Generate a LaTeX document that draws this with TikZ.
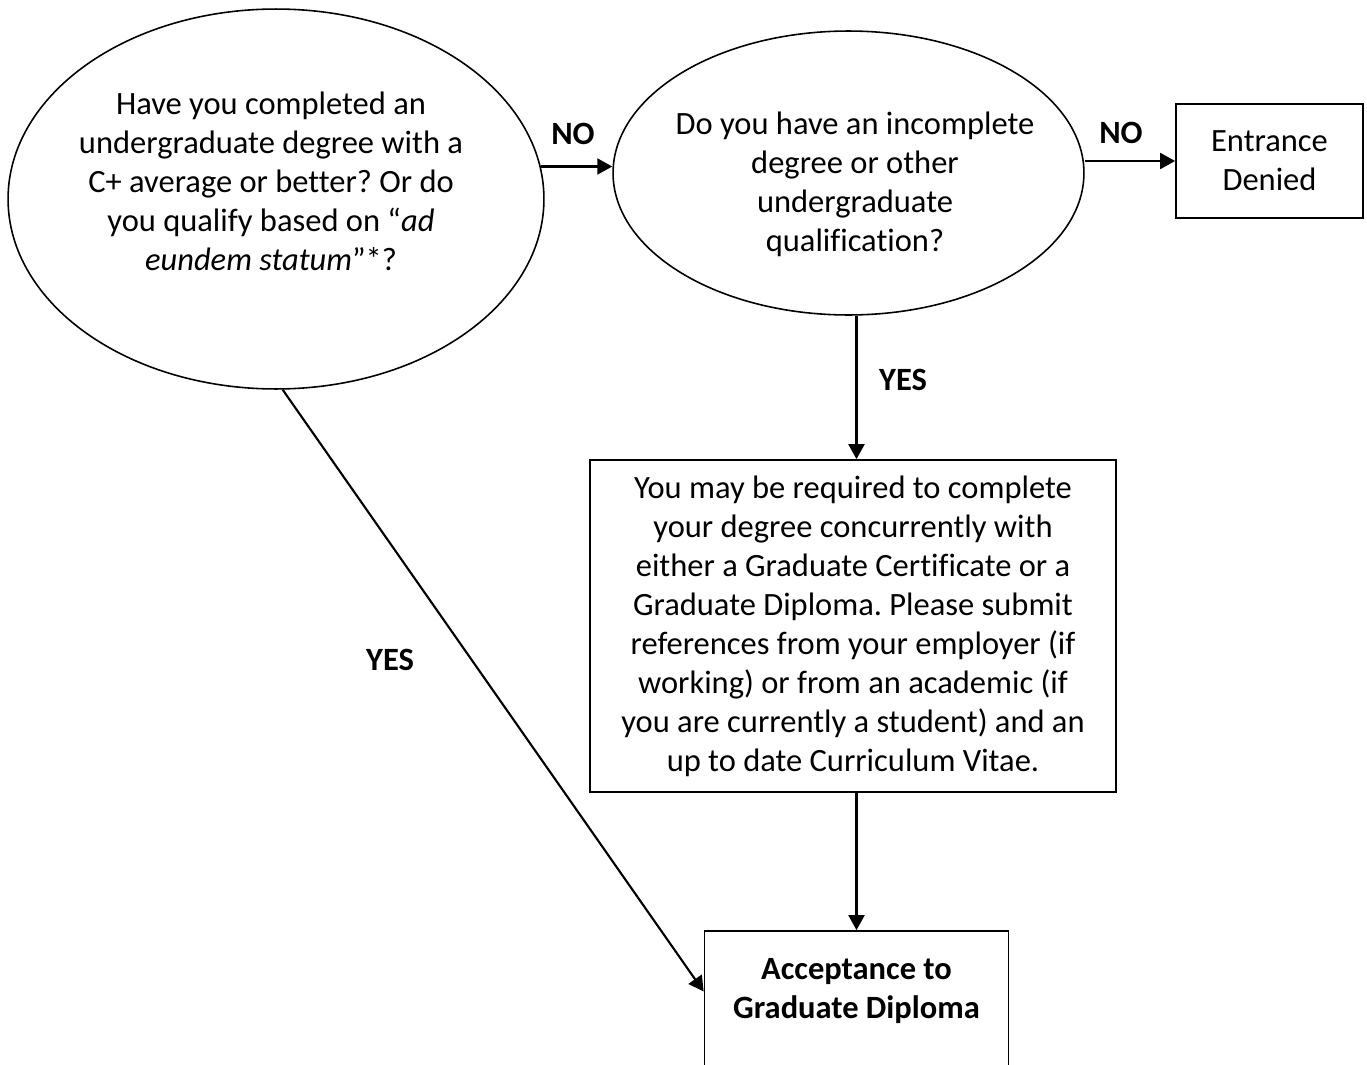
\documentclass[tikz,border=0pt]{standalone}
\usepackage{fontspec}
\setmainfont{Carlito}[RawFeature={-liga;-clig;-calt;-dlig}]
\usetikzlibrary{shapes.geometric,arrows.meta,calc}

\tikzset{
    txt/.style={font=\fontsize{18.5}{22.2}\selectfont, align=center, inner sep=0pt},
    oval/.style={draw, ellipse, line width=0.9pt, inner sep=0pt},
    box/.style={draw, rectangle, line width=1pt, inner sep=0pt, txt},
    lbl/.style={font=\fontsize{18.5}{22.2}\selectfont\bfseries, inner sep=0pt},
    flow/.style={line width=1.2pt, -{Triangle[length=0.3cm, width=0.32cm]}}
}

\begin{document}
\frenchspacing
\begin{tikzpicture}[x=0.02cm, y=-0.02cm]
%\draw [help lines] (0,0) grid (1367,1065);
    \clip (0,0) rectangle (1367,1065);
    \node [oval, minimum width=10.72cm, minimum height=7.6cm] (q1) at (276,199) {};
    \node [txt] (q1txt) at (271,181) {Have you completed an\\undergraduate degree with a\\C+ average or better? Or do\\you qualify based on “\textit{ad}\\\textit{eundem statum}”*?};
    \node [oval, minimum width=9.42cm, minimum height=5.68cm] (q2) at (848.5,173) {};
    \node [txt] (q2txt) at (855,184.5) {Do you have an incomplete\\degree or other\\undergraduate\\qualification?};
    \node [box, minimum width=3.74cm, minimum height=2.28cm] (q3) at (1269.5,161) {Entrance\\Denied};
    \node [box, minimum width=10.52cm, minimum height=6.64cm] (q4) at (853,626) {You may be required to complete\\your degree concurrently with\\either a Graduate Certificate or a\\Graduate Diploma. Please submit\\references from your employer (if\\working) or from an academic (if\\you are currently a student) and an\\up to date Curriculum Vitae.};
    \node [box, minimum width=6.08cm, minimum height=3.38cm] (q5) at (856.5,1015.5) {};
    \node [txt, font=\fontsize{18.5}{22.2}\selectfont\bfseries] (q5txt) at (856.5,991.5) {Acceptance to\\Graduate Diploma};

    \draw [flow] (q1.7) -- (q1.7 -| q2.west);
    \draw [flow] (q2.east |- q3.west) -- (q3.west);
    \draw [flow] (q2.south -| q5) -- (q4.north -| q5);
    \draw [flow] (q4.south -| q5) -- (q5.north);
    \draw [flow] (q1.-88) -- (q5.west |- q5txt);

    \node [lbl] (no1) at (573,134) {NO};
    \node [lbl] (no2) at (1121,133) {NO};
    \node [lbl] (yes1) at (903,380) {YES};
    \node [lbl] (yes2) at (390,660) {YES};
\end{tikzpicture}
\end{document}
